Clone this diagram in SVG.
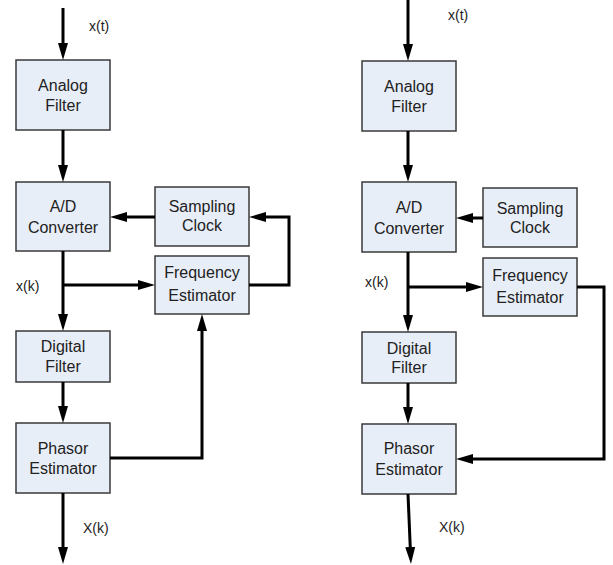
<svg xmlns="http://www.w3.org/2000/svg" width="613" height="565" viewBox="0 0 613 565">
  <style>
    .box rect { fill: #E8EEF8; stroke: #3a3a3a; stroke-width: 1.5; }
    .box text { font-family: "Liberation Sans", Arial, sans-serif; font-size: 16px; fill: #222; text-anchor: middle; }
    .lbl { font-family: "Liberation Sans", Arial, sans-serif; font-size: 14px; fill: #222; }
    .wire { fill: none; stroke: #000; stroke-width: 3; stroke-linejoin: miter; }
  </style>
  <defs>
    <marker id="head" markerUnits="userSpaceOnUse" markerWidth="17" markerHeight="10" refX="6" refY="5" orient="auto">
      <path d="M0,0 L17,5 L0,10 z" fill="#000"/>
    </marker>
  </defs>

  <rect width="613" height="565" fill="#fff"/>

  <!-- Left: frequency estimate fed back to the sampling clock -->
  <g id="left-analog-filter" class="box">
    <rect x="16" y="60" width="94" height="70"/>
    <text x="63" y="91">Analog</text>
    <text x="63" y="111">Filter</text>
  </g>
  <g id="left-ad-converter" class="box">
    <rect x="16" y="182" width="94" height="69"/>
    <text x="63" y="212">A/D</text>
    <text x="63" y="233">Converter</text>
  </g>
  <g id="left-sampling-clock" class="box">
    <rect x="155" y="187" width="94" height="59"/>
    <text x="202" y="212">Sampling</text>
    <text x="202" y="231">Clock</text>
  </g>
  <g id="left-frequency-estimator" class="box">
    <rect x="155" y="256" width="94" height="58"/>
    <text x="202" y="278">Frequency</text>
    <text x="202" y="301">Estimator</text>
  </g>
  <g id="left-digital-filter" class="box">
    <rect x="16" y="331" width="94" height="51"/>
    <text x="63" y="352">Digital</text>
    <text x="63" y="372">Filter</text>
  </g>
  <g id="left-phasor-estimator" class="box">
    <rect x="16" y="423" width="94" height="70"/>
    <text x="63" y="454">Phasor</text>
    <text x="63" y="474">Estimator</text>
  </g>

  <!-- Right: frequency estimate fed forward to the phasor estimator -->
  <g id="right-analog-filter" class="box">
    <rect x="362" y="61" width="94" height="70"/>
    <text x="409" y="92">Analog</text>
    <text x="409" y="112">Filter</text>
  </g>
  <g id="right-ad-converter" class="box">
    <rect x="362" y="182" width="94" height="70"/>
    <text x="409" y="213">A/D</text>
    <text x="409" y="234">Converter</text>
  </g>
  <g id="right-sampling-clock" class="box">
    <rect x="483" y="188" width="94" height="59"/>
    <text x="530" y="214">Sampling</text>
    <text x="530" y="233">Clock</text>
  </g>
  <g id="right-frequency-estimator" class="box">
    <rect x="483" y="258" width="94" height="58"/>
    <text x="530" y="281">Frequency</text>
    <text x="530" y="303">Estimator</text>
  </g>
  <g id="right-digital-filter" class="box">
    <rect x="362" y="332" width="94" height="51"/>
    <text x="409" y="354">Digital</text>
    <text x="409" y="373">Filter</text>
  </g>
  <g id="right-phasor-estimator" class="box">
    <rect x="362" y="424" width="94" height="70"/>
    <text x="409" y="454">Phasor</text>
    <text x="409" y="475">Estimator</text>
  </g>

  <g id="connectors">
    <!-- left -->
    <path class="wire" d="M63,8 V49" marker-end="url(#head)"/>
    <path class="wire" d="M63,130 V171" marker-end="url(#head)"/>
    <path class="wire" d="M155,217 H121" marker-end="url(#head)"/>
    <path class="wire" d="M249,285 H289 V217 H260" marker-end="url(#head)"/>
    <path class="wire" d="M63,251 V320" marker-end="url(#head)"/>
    <path class="wire" d="M63,285 H144" marker-end="url(#head)"/>
    <path class="wire" d="M63,382 V412" marker-end="url(#head)"/>
    <path class="wire" d="M110,458 H202 V325" marker-end="url(#head)"/>
    <path class="wire" d="M63,493 V553" marker-end="url(#head)"/>
    <!-- right -->
    <path class="wire" d="M408,0 V50" marker-end="url(#head)"/>
    <path class="wire" d="M408,131 V171" marker-end="url(#head)"/>
    <path class="wire" d="M483,218 H467" marker-end="url(#head)"/>
    <path class="wire" d="M408,252 V321" marker-end="url(#head)"/>
    <path class="wire" d="M408,287 H472" marker-end="url(#head)"/>
    <path class="wire" d="M577,287 H604 V459 H467" marker-end="url(#head)"/>
    <path class="wire" d="M408,383 V413" marker-end="url(#head)"/>
    <path class="wire" d="M408,494 L410.5,553" marker-end="url(#head)"/>
  </g>

  <g id="signal-labels">
    <text class="lbl" x="89" y="31">x(t)</text>
    <text class="lbl" x="16" y="291">x(k)</text>
    <text class="lbl" x="83" y="533">X(k)</text>
    <text class="lbl" x="448" y="20">x(t)</text>
    <text class="lbl" x="365" y="287">x(k)</text>
    <text class="lbl" x="439" y="532">X(k)</text>
  </g>
</svg>
